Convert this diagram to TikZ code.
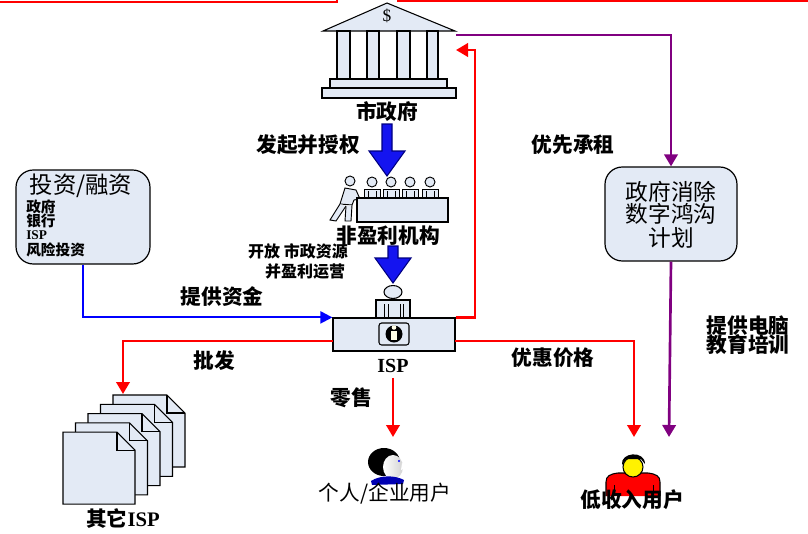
\documentclass[tikz,border=0pt]{standalone}
\usepackage{fontspec}
\setmainfont{Liberation Serif}
\newfontfamily\cjk{Noto Sans CJK SC}
\usetikzlibrary{arrows.meta,fit,calc}
\definecolor{paleblue}{HTML}{E3EAF5}
\definecolor{linkred}{HTML}{FF0000}
\definecolor{linkpurple}{HTML}{800080}
\definecolor{linkblue}{HTML}{0000FF}
\definecolor{bigblue}{HTML}{1414F0}
\definecolor{bignavy}{HTML}{000080}
% thick block arrow pointing down from #1 to #2 (same x)
\newcommand\downblock[2]{%
  \draw[blockshape] ($(#1)+(-5,0)$) -- ($(#1)+(5,0)$) -- ($(#2)+(5,-25)$)
    -- ($(#2)+(18,-25)$) -- (#2) -- ($(#2)+(-18,-25)$) -- ($(#2)+(-5,-25)$) -- cycle;}
\begin{document}
\begin{tikzpicture}[x=0.75pt,y=-0.75pt,
  lab/.style={font=\cjk\bfseries\fontsize{15.5}{18}\selectfont, inner sep=0},
  smalllab/.style={font=\cjk\bfseries\fontsize{12}{14}\selectfont, inner sep=0},
  plainlab/.style={font=\cjk\fontsize{16}{19}\selectfont, inner sep=0},
  itemlab/.style={font=\cjk\bfseries\fontsize{11}{12}\selectfont, inner sep=0, anchor=west},
  icon/.style={draw=black, fill=paleblue, line width=0.8pt},
  roundbox/.style={draw=black, fill=paleblue, line width=0.9pt, rounded corners=13pt, inner sep=0},
  redlink/.style={draw=linkred, line width=2pt, -{Triangle[width=10pt,length=9pt]}},
  purplelink/.style={draw=linkpurple, line width=2pt, -{Triangle[width=10pt,length=9pt]}},
  bluelink/.style={draw=linkblue, line width=1.6pt, -{Triangle[width=9pt,length=9pt]}},
  blockshape/.style={draw=bignavy, fill=bigblue, line width=0.8pt, line join=miter},
]
\useasboundingbox (0,0) rectangle (808,533);

% frame edges along the top
\draw[linkred, line width=2pt] (0,2) -- (337,2) -- (337,-1);
\draw[linkred, line width=2pt] (397,0.5) -- (809,0.5);

% ---- city hall building ----
\draw[icon] (323,31) -- (387,3) -- (455,31) -- cycle;
\node[font=\fontsize{13}{13}\selectfont, inner sep=0] (dollar) at (387,16) {\$};
\foreach \a/\b in {337/350, 367/379, 397/410, 427/438}
  \draw[icon] (\a,31) rectangle (\b,79);
\draw[icon] (330,79) rectangle (447,88);
\draw[icon] (322,88) rectangle (456,98);
\node[lab] (hall) at (387,112) {市政府};
\coordinate (hallIn) at (456,50);
\coordinate (hallOut) at (456,35);

% ---- non-profit organisation (meeting table) ----
\coordinate (meetTop) at (387,176);
\foreach \x in {372,391,410,430} {
  \draw[icon, line width=0.7pt] (\x,182) circle (5);
  \draw[icon, line width=0.7pt] (\x-8,189) rectangle (\x+8,198);
  \draw[line width=0.6pt] (\x-4,191) -- (\x-4,198) (\x+4,191) -- (\x+4,198);
}
\draw[icon, line width=0.7pt] (350,181) circle (5);
\draw[icon, line width=0.7pt] (345,188) -- (356,190) -- (360,199) -- (354,200) -- (352,205) -- (340,204) -- cycle;
\draw[icon, line width=0.7pt] (340,204) -- (330,220) -- (336,221) -- (346,206);
\draw[icon, line width=0.7pt] (346,206) -- (345,221) -- (351,221) -- (352,205);
\draw[icon] (357,198) rectangle (448,222);
\node[lab] (npo) at (388,236) {非盈利机构};

\coordinate (hallOutDown) at (387,124);
\downblock{hallOutDown}{meetTop}
\coordinate (npoOut) at (393,246);
\coordinate (ispTop) at (393,283);
\downblock{npoOut}{ispTop}

\node[lab] (authLab) at (308,145) {发起并授权};
\node[smalllab] (openLab1) at (298,251) {开放 市政资源};
\node[smalllab] (openLab2) at (305,271) {并盈利运营};

% ---- ISP ----
\draw[icon] (393,292) ellipse (9 and 6.5);
\draw[icon] (376,300) rectangle (410,318);
\draw[line width=0.6pt] (384,304) -- (384,318) (388,304) -- (388,318) (400,304) -- (400,318) (403,304) -- (403,318);
\node[draw=black, fill=paleblue, line width=0.9pt, inner sep=0,
      fit={(333,318) (455,351)}] (isp) {};
\draw[icon, rounded corners=2pt] (379,323) rectangle (409,345);
\fill[black] (394,334) circle (8.5);
\fill[yellow!10!white] (391,331) rectangle (397,340);
\fill[yellow!10!white] (394,327.5) circle (2.3);
\node[font=\bfseries\fontsize{15}{15}\selectfont, inner sep=0] (ispLab) at (393,366) {ISP};
\coordinate (ispLeft) at (333,341);
\coordinate (ispRight) at (455,341);

% ---- investment / financing ----
\node[roundbox, fit={(16,170) (150,264)}] (fund) {};
\node[plainlab, font=\cjk\fontsize{17.5}{20}\selectfont] (fundTitle) at (81,186) {投资/融资};
\node[itemlab] (it1) at (26,207) {政府};
\node[itemlab] (it2) at (26,221) {银行};
\node[itemlab, font=\bfseries\fontsize{10}{11}\selectfont] (it3) at (26,235) {ISP};
\node[itemlab] (it4) at (26,250) {风险投资};
\draw[bluelink] (fund.south) |- (isp.north west);
\node[lab] (fundLab) at (222,297) {提供资金};

% ---- government programme ----
\node[roundbox, fit={(605,167) (737,261)}] (plan) {};
\node[plainlab, font=\cjk\fontsize{17}{20}\selectfont] (planL1) at (671,192) {政府消除};
\node[plainlab, font=\cjk\fontsize{17}{20}\selectfont] (planL2) at (671,214) {数字鸿沟};
\node[plainlab, font=\cjk\fontsize{17}{20}\selectfont] (planL3) at (671,238) {计划};

% ---- other ISPs (stack of pages) ----
\foreach \i in {0,...,4} {
  \pgfmathsetmacro\L{113-12.5*\i}
  \pgfmathsetmacro\T{395+9.3*\i}
  \draw[icon] (\L,\T) -- (\L+54,\T) -- (\L+72,\T+18) -- (\L+72,\T+72) -- (\L,\T+72) -- cycle;
  \draw[icon, fill=none] (\L+54,\T) -- (\L+54,\T+18) -- (\L+72,\T+18);
}
\coordinate (docsTop) at (123,394);
\node[lab] (docsLab) at (123,519) {其它\textrm{ISP}};

% ---- individual / business user ----
\fill[black] (384,462) ellipse (16 and 14);
\shade[left color=white, right color=gray!35] (393,467) ellipse (10 and 12);
\fill[white] (402,463) -- (407,467) -- (401,470) -- cycle;
\fill[linkblue] (399,461) circle (1.2);
\fill[blue!70!black] (371,481) .. controls (380,475) and (395,475) .. (404,480) -- (403,484) -- (372,485) -- cycle;
\coordinate (userTop) at (393,437);
\node[plainlab, font=\cjk\fontsize{15.5}{18}\selectfont] (userLab) at (385,494) {个人/企业用户};

% ---- low-income user ----
\draw[draw=black, fill=linkred, line width=0.8pt] (606,496) -- (606,482) .. controls (606,476) and (610,474) .. (618,473) -- (648,473) .. controls (656,474) and (660,476) .. (660,482) -- (660,496);
\draw[line width=0.6pt] (614,485) -- (614,496) (653,485) -- (653,496);
\draw[draw=black, fill=yellow, line width=0.8pt] (633,467) ellipse (10 and 10);
\fill[black] (622,465) .. controls (620,452) and (645,450) .. (645,464) -- (641,459) -- (626,459) -- cycle;
\coordinate (lowRed) at (634,437);
\coordinate (lowPurple) at (669,437);
\node[lab] (lowLab) at (632,500) {低收入用户};

% ---- connectors ----
\coordinate (backCorner) at (475,50);
\draw[redlink] (isp.north east) -| (backCorner) -- (hallIn);
\draw[purplelink] (hallOut) -| (plan.north);
\draw[purplelink] (plan.south) -- (lowPurple);
\draw[redlink] (ispLeft) -| (docsTop);
\draw[redlink] (ispRight) -| (lowRed);
\draw[redlink] (ispLab.south) ++(0,5) -- (userTop);

% ---- connector labels ----
\node[lab] (rentLab) at (573,145) {优先承租};
\node[lab] (pcLab1) at (748,326) {提供电脑};
\node[lab] (pcLab2) at (748,345) {教育培训};
\node[lab] (wholesaleLab) at (214,361) {批发};
\node[lab] (priceLab) at (553,358) {优惠价格};
\node[lab] (retailLab) at (351,398) {零售};
\end{tikzpicture}
\end{document}
